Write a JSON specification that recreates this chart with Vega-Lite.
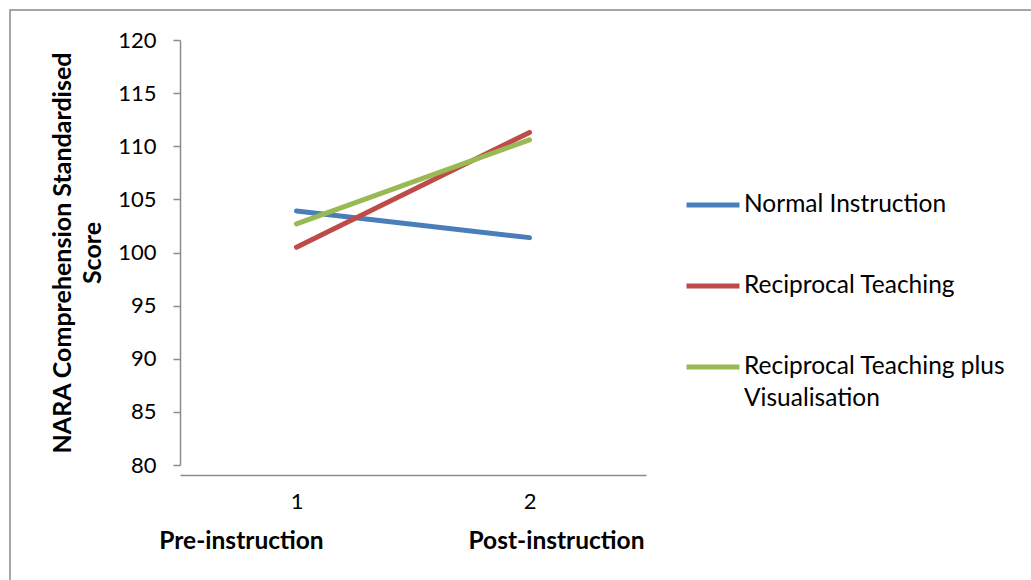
{
  "$schema": "https://vega.github.io/schema/vega-lite/v6.json",
  "autosize": {"type": "none"},
  "padding": {"left": 10, "top": 10, "right": 0, "bottom": 0},
  "width": 1030,
  "height": 590,
  "background": "white",
  "config": {
    "font": "Lato",
    "view": {"stroke": "#8a8a8a", "strokeWidth": 1.5},
    "style": {"guide-label": {"lineHeight": 32}},
    "axis": {"grid": false, "domainColor": "#8c8c8c", "tickColor": "#8c8c8c", "labelFont": "Lato", "labelFontSize": 22, "labelColor": "#000000", "titleFont": "Lato", "titleColor": "#000000"}
  },
  "datasets": {
    "scores": [
      {"Time": "1", "Group": "Normal Instruction", "Score": 103.9},
      {"Time": "2", "Group": "Normal Instruction", "Score": 101.4},
      {"Time": "1", "Group": "Reciprocal Teaching", "Score": 100.5},
      {"Time": "2", "Group": "Reciprocal Teaching", "Score": 111.3},
      {"Time": "1", "Group": "Reciprocal Teaching plus Visualisation", "Score": 102.7},
      {"Time": "2", "Group": "Reciprocal Teaching plus Visualisation", "Score": 110.6}
    ],
    "phases": [
      {"Time": "1", "Phase": "Pre-instruction"},
      {"Time": "2", "Phase": "Post-instruction"}
    ]
  },
  "layer": [
    {
      "data": {"name": "scores"},
      "mark": {"type": "line", "strokeWidth": 5, "strokeCap": "round"},
      "encoding": {
        "x": {"field": "Time", "type": "ordinal", "scale": {"type": "point", "range": [170, 636], "padding": 0.5},
          "axis": {"title": null, "orient": "bottom", "offset": -125, "ticks": false, "labelAngle": 0, "labelPadding": 16, "domainWidth": 1.5}},
        "y": {"field": "Score", "type": "quantitative", "scale": {"domain": [80, 120], "range": [455, 30], "nice": false, "zero": false},
          "axis": {"values": [80, 85, 90, 95, 100, 105, 110, 115, 120], "offset": -170, "tickSize": 7, "tickWidth": 1.5, "domainWidth": 1.5, "labelPadding": 17,
            "title": ["NARA Comprehension Standardised", "Score"], "titleFontSize": 25, "titleFontWeight": "bold", "titleLineHeight": 30, "titlePadding": 12}},
        "color": {"field": "Group", "type": "nominal",
          "scale": {"domain": ["Normal Instruction", "Reciprocal Teaching", "Reciprocal Teaching plus Visualisation"], "range": ["#4A7EBB", "#BE4B48", "#98B954"]},
          "legend": {"title": null, "orient": "none", "legendX": 674, "legendY": 166, "symbolType": "stroke", "symbolSize": 2809, "symbolStrokeWidth": 5,
            "labelFontSize": 24.5, "labelFont": "Lato", "labelColor": "#000000", "labelLimit": 400, "rowPadding": 40, "labelOffset": 2,
            "labelExpr": "datum.label == 'Reciprocal Teaching plus Visualisation' ? ['Reciprocal Teaching plus', 'Visualisation'] : datum.label"}}
      }
    },
    {
      "data": {"name": "phases"},
      "transform": [{"filter": "datum.Time == '1'"}],
      "mark": {"type": "text", "fontWeight": "bold", "fontSize": 24.5, "dx": -55, "baseline": "middle", "color": "#000000"},
      "encoding": {
        "x": {"field": "Time", "type": "ordinal"},
        "y": {"datum": 72.75},
        "text": {"field": "Phase"}
      }
    },
    {
      "data": {"name": "phases"},
      "transform": [{"filter": "datum.Time == '2'"}],
      "mark": {"type": "text", "fontWeight": "bold", "fontSize": 24.5, "dx": 27, "baseline": "middle", "color": "#000000"},
      "encoding": {
        "x": {"field": "Time", "type": "ordinal"},
        "y": {"datum": 72.75},
        "text": {"field": "Phase"}
      }
    }
  ]
}
